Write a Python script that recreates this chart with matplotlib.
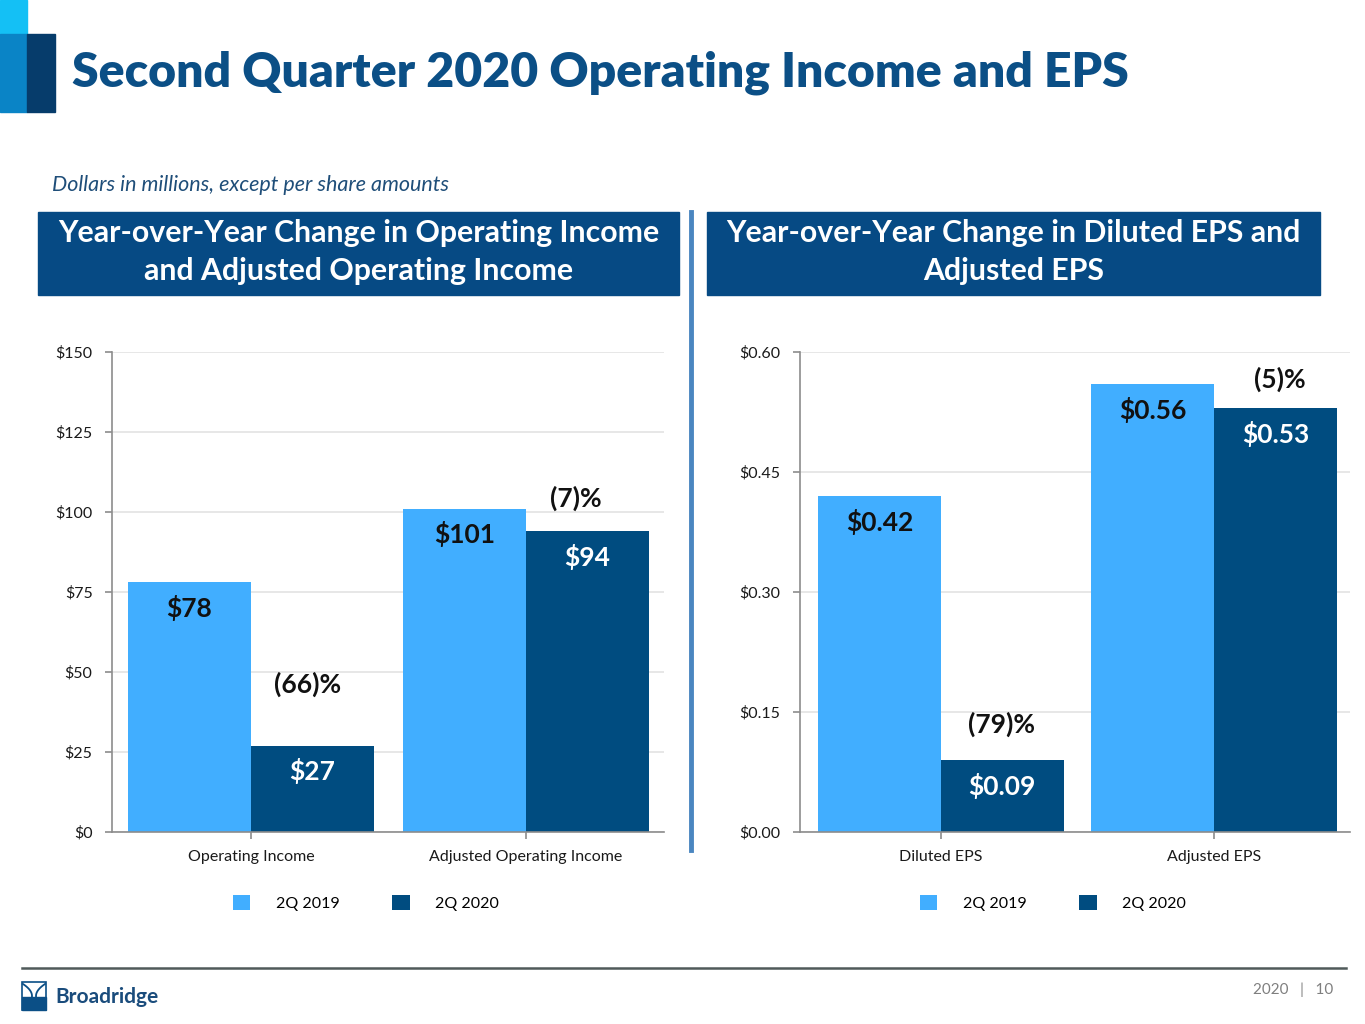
import matplotlib
matplotlib.use("Agg")
import matplotlib.pyplot as plt
from matplotlib.patches import Rectangle
from matplotlib.lines import Line2D
import numpy as np

plt.rcParams['font.family'] = ['Lato', 'DejaVu Sans']

# ---------------- data ----------------
left_categories = ["Operating Income", "Adjusted Operating Income"]
left_2019 = [78, 101]
left_2020 = [27, 94]
left_labels_2019 = ["$78", "$101"]
left_labels_2020 = ["$27", "$94"]
left_changes = ["(66)%", "(7)%"]
left_yticks = [0, 25, 50, 75, 100, 125, 150]
left_yticklabels = ["$0", "$25", "$50", "$75", "$100", "$125", "$150"]

right_categories = ["Diluted EPS", "Adjusted EPS"]
right_2019 = [0.42, 0.56]
right_2020 = [0.09, 0.53]
right_labels_2019 = ["$0.42", "$0.56"]
right_labels_2020 = ["$0.09", "$0.53"]
right_changes = ["(79)%", "(5)%"]
right_yticks = [0.0, 0.15, 0.30, 0.45, 0.60]
right_yticklabels = ["$0.00", "$0.15", "$0.30", "$0.45", "$0.60"]

series_names = ["2Q 2019", "2Q 2020"]

# ---------------- style ----------------
LIGHT = "#41AEFF"
DARK = "#004C80"
HEADER = "#064A84"
TITLE_C = "#0B4F86"
W, H = 1365, 1024

fig = plt.figure(figsize=(W / 100, H / 100), dpi=100)


def px_axes(l, t, r, b):
    return fig.add_axes([l / W, 1 - b / H, (r - l) / W, (b - t) / H])


def panel(ax, cats, v19, v20, lab19, lab20, changes, yticks, yticklabels,
          xlim, width, ymax, change_off, change_dx):
    x = np.arange(len(cats))
    ax.set_axisbelow(True)
    b1 = ax.bar(x - width / 2, v19, width, color=LIGHT, label=series_names[0], zorder=2)
    b2 = ax.bar(x + width / 2, v20, width, color=DARK, label=series_names[1], zorder=2)
    ax.set_xlim(*xlim)
    ax.set_ylim(0, ymax)
    ax.set_yticks(yticks)
    ax.set_yticklabels(yticklabels)
    ax.set_xticks(x)
    ax.set_xticklabels(cats)
    ax.yaxis.grid(True, color="#E3E3E3", linewidth=1.2)
    for s in ["top", "right"]:
        ax.spines[s].set_visible(False)
    ax.spines["left"].set_color("#8C8C8C")
    ax.spines["bottom"].set_color("#8C8C8C")
    ax.spines["left"].set_linewidth(1.2)
    ax.spines["bottom"].set_linewidth(1.2)
    ax.tick_params(axis="both", colors="#8C8C8C", labelcolor="#1A1A1A",
                   labelsize=11.5, length=5, width=1.2)
    ax.tick_params(axis="x", pad=8)
    ax.tick_params(axis="y", pad=9)
    for rect, t in zip(b1, lab19):
        ax.annotate(t, (rect.get_x() + rect.get_width() / 2, rect.get_height()),
                    xytext=(0, -18.5), textcoords="offset points", ha="center",
                    va="center", fontsize=19, fontweight="bold", color="#111111")
    for rect, t in zip(b2, lab20):
        ax.annotate(t, (rect.get_x() + rect.get_width() / 2, rect.get_height()),
                    xytext=(0, -18.5), textcoords="offset points", ha="center",
                    va="center", fontsize=19, fontweight="bold", color="white")
    for rect, t, off, dx in zip(b2, changes, change_off, change_dx):
        ax.annotate(t, (rect.get_x() + rect.get_width() / 2, rect.get_height()),
                    xytext=(dx * 0.72, off * 0.72), textcoords="offset points",
                    ha="center", va="center", fontsize=19, fontweight="bold",
                    color="#111111")
    ax.legend(loc="center", bbox_to_anchor=(0.46, -0.148), ncol=2,
              frameon=False, fontsize=11.5, handlelength=1.1,
              handleheight=1.1, handletextpad=1.6, columnspacing=3.3)
    return ax


axL = px_axes(112, 352, 664, 832)
panel(axL, left_categories, left_2019, left_2020, left_labels_2019,
      left_labels_2020, left_changes, left_yticks, left_yticklabels,
      (-0.505, 1.502), 0.447, 150, [61, 33], [-5, -12])

axR = px_axes(800, 352, 1350, 832)
panel(axR, right_categories, right_2019, right_2020, right_labels_2019,
      right_labels_2020, right_changes, right_yticks, right_yticklabels,
      (-0.516, 1.498), 0.45, 0.60, [36, 29], [-1, 4])

# ---------------- decorations ----------------
def frect(l, t, r, b, color, **kw):
    fig.patches.append(Rectangle((l / W, 1 - b / H), (r - l) / W, (b - t) / H,
                                 transform=fig.transFigure, color=color, **kw))

# corner blocks
frect(0, 0, 27, 34, "#14C0F5")
frect(0, 34, 27, 112, "#0A84C6")
frect(27, 34, 55, 112, "#063C6B")

fig.text(72 / W, 1 - 73 / H, "Second Quarter 2020 Operating Income and EPS",
         fontsize=34.7, fontweight="heavy", color=TITLE_C, va="center", ha="left")

fig.text(52 / W, 1 - 185 / H, "Dollars in millions, except per share amounts",
         fontsize=15.5, fontstyle="italic", color="#1F4E79", va="center", ha="left")

# header boxes
frect(38, 212, 679, 295, HEADER)
frect(707, 212, 1320, 295, HEADER)
fig.text((38 + 679) / 2 / W, 1 - 252 / H,
         "Year-over-Year Change in Operating Income\nand Adjusted Operating Income",
         fontsize=21.8, fontweight="bold", color="white", ha="center", va="center",
         linespacing=1.45)
fig.text((707 + 1320) / 2 / W, 1 - 252 / H,
         "Year-over-Year Change in Diluted EPS and\nAdjusted EPS",
         fontsize=21.8, fontweight="bold", color="white", ha="center", va="center",
         linespacing=1.45)

# divider
fig.lines.append(Line2D([691 / W, 691 / W], [1 - 212 / H, 1 - 850 / H],
                        transform=fig.transFigure, color="#4A86C0", linewidth=3.5))

# footer line
fig.lines.append(Line2D([22 / W, 1346 / W], [1 - 968 / H, 1 - 968 / H],
                        transform=fig.transFigure, color="#505A5A", linewidth=1.8))

# Broadridge logo (approximate)
frect(22, 982, 46, 1010, "white", ec="#0B4F86", lw=1.2)
frect(22, 997, 46, 1010, "#0B4F86")
t = np.linspace(0, 1, 30)
for sgn in (-1, 1):
    xs = (34 + sgn * (2 + 9 * (t - 0.5) ** 2 * 4)) / W
    ys = 1 - (984 + 24 * t) / H
    fig.lines.append(Line2D(xs, ys, transform=fig.transFigure, color="#0B4F86",
                            linewidth=1.3))
fig.text(55 / W, 1 - 997 / H, "Broadridge", fontsize=15, fontweight="bold",
         color="#1A4C7C", va="center", ha="left")

fig.text(1333 / W, 1 - 990 / H, "2020   |   10", fontsize=11, color="#7F7F7F",
         va="center", ha="right")

fig.savefig("out.png", dpi=100, facecolor="white")
